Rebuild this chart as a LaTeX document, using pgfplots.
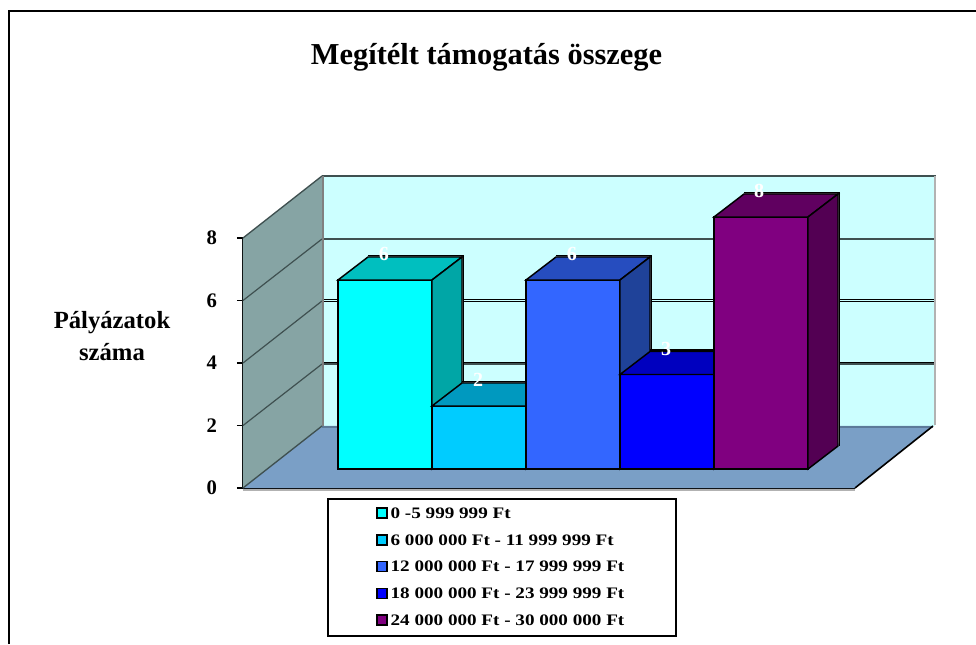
\documentclass[border=0pt]{standalone}
\usepackage{fontspec}
\setmainfont{Liberation Serif}
\newfontfamily\legfont[FakeStretch=1.195]{Liberation Serif}
\usepackage{pgfplots}
\pgfplotsset{compat=1.18}

\definecolor{wallback}{HTML}{CCFFFF}
\definecolor{wallside}{HTML}{86A4A4}
\definecolor{floorcol}{HTML}{7A9FC6}
\definecolor{floorback}{HTML}{5C7A99}
\definecolor{griddark}{HTML}{3F5050}
\definecolor{shade}{HTML}{9AA8A8}

\definecolor{aF}{HTML}{00FFFF}\definecolor{aT}{HTML}{00BFBF}\definecolor{aS}{HTML}{00A6A6}
\definecolor{bF}{HTML}{00CCFF}\definecolor{bT}{HTML}{0099BF}\definecolor{bS}{HTML}{0085A6}
\definecolor{cF}{HTML}{3366FF}\definecolor{cT}{HTML}{264DBF}\definecolor{cS}{HTML}{1F4299}
\definecolor{dF}{HTML}{0000FF}\definecolor{dT}{HTML}{0000BF}\definecolor{dS}{HTML}{0000A6}
\definecolor{eF}{HTML}{800080}\definecolor{eT}{HTML}{600060}\definecolor{eS}{HTML}{530053}

\pgfplotsset{
  chartbox/.style={
    scale only axis, width=459pt, height=187.5pt,
    xmin=243, xmax=855, clip=false
  },
  face/.style={forget plot, line width=1.1pt, draw=black, fill=#1},
  wall/.style={forget plot, draw=none, fill=#1},
  barshade/.style={forget plot, shade, line width=1.2pt}
}

\begin{document}
\begin{tikzpicture}
% walls, floor, value axis: x in picture pixels, y in chart units
\begin{axis}[
  chartbox, ymin=0, ymax=8,
  axis x line=bottom, axis y line=left,
  axis line style={-, line width=1.5pt},
  xtick=\empty,
  ytick={0,2,4,6,8},
  tick align=outside, major tick length=4.5pt,
  every tick/.style={black, line width=1pt},
  /pgf/number format/assume math mode=true,
  ticklabel style={font=\fontsize{15.5}{17}\selectfont\bfseries},
  yticklabel style={xshift=-11.5pt},
  title={Megítélt támogatás összege},
  title style={at={(axis cs:486.5,13.54)}, anchor=center, yshift=0pt,
    font=\fontsize{22.8}{25}\selectfont\bfseries},
  ylabel={Pályázatok\\száma},
  ylabel style={at={(axis cs:112,4.86)}, anchor=center, rotate=-90, align=center,
    font=\fontsize{18.5}{24}\selectfont\bfseries}
]
\coordinate (bl) at (axis cs:0,-4.992);
\coordinate (tr) at (axis cs:976,15.616);

% outer frame, open on the right and at the bottom
\addplot[forget plot, black, line width=1.5pt] coordinates {(9,-4.992) (9,15.264) (976,15.264)};

\addplot[wall=wallback] coordinates {(322,1.984) (935,1.984) (935,9.984) (322,9.984)} -- cycle;
\addplot[wall=floorcol] coordinates {(243,0) (855,0) (933,1.984) (322,1.984)} -- cycle;
\addplot[wall=wallside] coordinates {(243,0) (322,1.984) (322,9.984) (243,8)} -- cycle;

% back wall grid, with its light shade
\addplot[forget plot, shade, line width=1pt] coordinates {(322,4.01) (934,4.01)};
\addplot[forget plot, shade, line width=1pt] coordinates {(322,6.03) (934,6.03)};
\addplot[forget plot, griddark, line width=1.5pt] coordinates {(322,3.968) (934,3.968)};
\addplot[forget plot, black, line width=0.6pt] coordinates {(322,5.984) (934,5.984)};
\addplot[forget plot, griddark, line width=1.5pt] coordinates {(322,7.968) (934,7.968)};
\addplot[forget plot, griddark, line width=1.5pt] coordinates {(322,9.984) (936,9.984)};
\addplot[forget plot, floorback, line width=2pt] coordinates {(322,1.95) (933,1.95)};
% grid on the side wall
\addplot[forget plot, griddark, line width=0.9pt] coordinates {(243,2) (322,3.968)};
\addplot[forget plot, griddark, line width=0.9pt] coordinates {(243,4) (322,5.984)};
\addplot[forget plot, griddark, line width=0.9pt] coordinates {(243,6) (322,7.968)};
% wall edges
\addplot[forget plot, griddark, line width=1pt] coordinates {(243,8) (322,9.984)};
\addplot[forget plot, gray, line width=1.8pt] coordinates {(323,1.984) (323,9.984)};
\addplot[forget plot, black!30, line width=1.8pt] coordinates {(935,2.03) (935,9.984)};
\addplot[forget plot, griddark, line width=1pt] coordinates {(243,0) (322,1.984)};
\addplot[forget plot, black, line width=1.2pt] coordinates {(855,0) (933,1.984)};
\addplot[forget plot, black!30, line width=1.5pt] coordinates {(243,-0.07) (855,-0.07)};
\end{axis}

% bars: same box, y shifted so that the bars stand on their own base
\begin{axis}[
  chartbox, ymin=-0.603, ymax=7.333,
  hide axis,
  legend cell align=left,
  legend image code/.code={\draw[#1, line width=1.1pt] (0pt,-3pt) rectangle (7.5pt,4.5pt);},
  legend style={
    at={(axis cs:327,-0.93)}, anchor=north west,
    draw=black, line width=1.5pt, fill=white,
    inner xsep=36.2pt, inner ysep=6pt, row sep=10.3pt,
    font=\fontsize{12}{13}\selectfont\legfont\bfseries,
    nodes={inner xsep=2.2pt, inner ysep=0pt}
  }
]
\addplot[barshade] coordinates {(463.5,0.73) (463.5,6.78) (368,6.78)};
\addplot[face=aF] coordinates {(338,0) (432,0) (432,6) (338,6)} -- cycle;
\addplot[face=aT] coordinates {(338,6) (432,6) (462,6.73) (368,6.73)} -- cycle;
\addplot[face=aS] coordinates {(432,0) (462,0.73) (462,6.73) (432,6)} -- cycle;

\addplot[barshade] coordinates {(557.5,0.73) (557.5,2.78) (462,2.78)};
\addplot[face=bF] coordinates {(432,0) (526,0) (526,2) (432,2)} -- cycle;
\addplot[face=bT] coordinates {(432,2) (526,2) (556,2.73) (462,2.73)} -- cycle;
\addplot[face=bS] coordinates {(526,0) (556,0.73) (556,2.73) (526,2)} -- cycle;

\addplot[barshade] coordinates {(651.5,0.73) (651.5,6.78) (556,6.78)};
\addplot[face=cF] coordinates {(526,0) (620,0) (620,6) (526,6)} -- cycle;
\addplot[face=cT] coordinates {(526,6) (620,6) (650,6.73) (556,6.73)} -- cycle;
\addplot[face=cS] coordinates {(620,0) (650,0.73) (650,6.73) (620,6)} -- cycle;

\addplot[barshade] coordinates {(745.5,0.73) (745.5,3.78) (650,3.78)};
\addplot[face=dF] coordinates {(620,0) (714,0) (714,3) (620,3)} -- cycle;
\addplot[face=dT] coordinates {(620,3) (714,3) (744,3.73) (650,3.73)} -- cycle;
\addplot[face=dS] coordinates {(714,0) (744,0.73) (744,3.73) (714,3)} -- cycle;

\addplot[barshade] coordinates {(839.5,0.73) (839.5,8.78) (744,8.78)};
\addplot[face=eF] coordinates {(714,0) (808,0) (808,8) (714,8)} -- cycle;
\addplot[face=eT] coordinates {(714,8) (808,8) (838,8.73) (744,8.73)} -- cycle;
\addplot[face=eS] coordinates {(808,0) (838,0.73) (838,8.73) (808,8)} -- cycle;

% value labels
\addplot[forget plot, draw=none, mark=none,
  nodes near coords,
  /pgf/number format/assume math mode=true,
  every node near coord/.style={anchor=center, yshift=19.5pt, text=white,
    font=\fontsize{15}{16}\selectfont\bfseries}]
  coordinates {(384,6) (478,2) (572,6) (666,3) (759,8)};

\addlegendimage{fill=aF, draw=black}
\addlegendentry{0 -5 999 999 Ft}
\addlegendimage{fill=bF, draw=black}
\addlegendentry{6 000 000 Ft - 11 999 999 Ft}
\addlegendimage{fill=cF, draw=black}
\addlegendentry{12 000 000 Ft - 17 999 999 Ft}
\addlegendimage{fill=dF, draw=black}
\addlegendentry{18 000 000 Ft - 23 999 999 Ft}
\addlegendimage{fill=eF, draw=black}
\addlegendentry{24 000 000 Ft - 30 000 000 Ft}
\end{axis}

\pgfresetboundingbox
\path[use as bounding box] (bl) rectangle (tr);
\end{tikzpicture}
\end{document}
